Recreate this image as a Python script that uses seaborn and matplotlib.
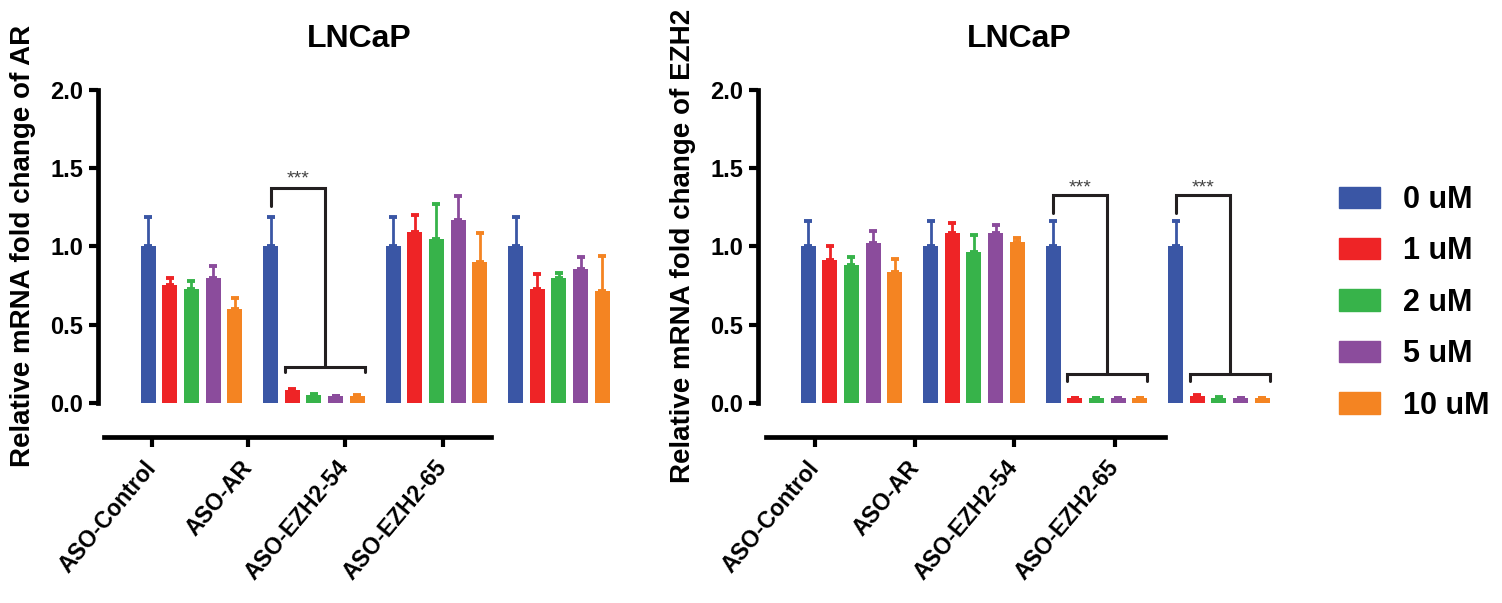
import numpy as np
import pandas as pd
import seaborn as sns
import matplotlib.pyplot as plt

sns.set_style('ticks')
plt.rcParams['font.family'] = ['Liberation Sans', 'DejaVu Sans']
plt.rcParams['font.weight'] = 'bold'
plt.rcParams['text.color'] = 'black'
plt.rcParams['axes.labelcolor'] = 'black'
plt.rcParams['axes.edgecolor'] = 'black'
plt.rcParams['xtick.color'] = 'black'
plt.rcParams['ytick.color'] = 'black'

# данные
groups = ['ASO-Control', 'ASO-AR', 'ASO-EZH2-54', 'ASO-EZH2-65']
doses = ['0 uM', '1 uM', '2 uM', '5 uM', '10 uM']
colors = ['#3A56A5', '#EE2426', '#37B34A', '#8B4C9C', '#F48422']

ar_mean = [[1.00, 0.75, 0.73, 0.80, 0.60],
           [1.00, 0.08, 0.05, 0.04, 0.04],
           [1.00, 1.09, 1.05, 1.17, 0.90],
           [1.00, 0.73, 0.80, 0.855, 0.715]]
ar_err = [[0.19, 0.045, 0.05, 0.075, 0.07],
          [0.19, 0.01, 0.008, 0.006, 0.008],
          [0.19, 0.11, 0.22, 0.15, 0.185],
          [0.19, 0.095, 0.03, 0.08, 0.225]]

ezh2_mean = [[1.00, 0.91, 0.88, 1.02, 0.835],
             [1.00, 1.085, 0.965, 1.085, 1.03],
             [1.00, 0.03, 0.028, 0.028, 0.028],
             [1.00, 0.04, 0.03, 0.028, 0.028]]
ezh2_err = [[0.165, 0.095, 0.055, 0.08, 0.085],
            [0.165, 0.065, 0.105, 0.05, 0.025],
            [0.165, 0.0, 0.0, 0.0, 0.0],
            [0.165, 0.012, 0.004, 0.0, 0.0]]


def make_df(mean, err):
    rows = []
    for i, g in enumerate(groups):
        for k, d in enumerate(doses):
            rows.append({'group': g, 'dose': d, 'value': mean[i][k], 'err': err[i][k]})
    return pd.DataFrame(rows)


fig = plt.figure(figsize=(15.02, 6.03), dpi=100)
W, H = 1502, 603
ax1 = fig.add_axes([98 / W, 1 - 402.7 / H, 522 / W, 312.7 / H])
ax2 = fig.add_axes([758 / W, 1 - 402.7 / H, 522 / W, 312.7 / H])

panels = [
    (ax1, make_df(ar_mean, ar_err), 'Relative mRNA fold change of AR',
     [-0.322, 0.461, 1.253, 2.053], (-0.714, 2.445),
     [(1, 1.376, 1.26, 0.23, 0.196, 0.055)]),
    (ax2, make_df(ezh2_mean, ezh2_err), 'Relative mRNA fold change of EZH2',
     [-0.298, 0.519, 1.327, 2.151], (-0.698, 2.559),
     [(2, 1.329, 1.212, 0.182, 0.141, 0.043),
      (3, 1.329, 1.212, 0.182, 0.141, 0.043)]),
]

for ax, df, ylab, xt, xb, brackets in panels:
    sns.barplot(data=df, x='group', y='value', hue='dose', palette=colors,
                errorbar=None, width=0.886, gap=0.31, saturation=1,
                linewidth=0, legend=False, ax=ax)
    bars = list(ax.containers)

    # планки погрешностей только вверх
    for k, cont in enumerate(bars):
        sub = df[df['dose'] == doses[k]]
        xs = [b.get_x() + b.get_width() / 2 for b in cont]
        ys = [b.get_height() for b in cont]
        e = sub['err'].values
        ax.errorbar(xs, ys, yerr=[np.zeros(len(e)), e], fmt='none',
                    ecolor=colors[k], elinewidth=2, capsize=2.6, capthick=2.8, zorder=3)

    # скобки значимости
    for gi, top, leg, low, tip, sgap in brackets:
        blue = bars[0][gi]
        red = bars[1][gi]
        orange = bars[4][gi]
        xl = blue.get_x() + blue.get_width() / 2
        x0 = red.get_x()
        x1 = orange.get_x() + orange.get_width()
        xm = (x0 + x1) / 2
        ax.plot([xl, xl, xm, xm], [leg, top, top, low], color='#231F20', lw=2.2,
                solid_joinstyle='miter', zorder=4)
        ax.plot([x0, x0, x1, x1], [tip, low, low, tip], color='#231F20', lw=2.2,
                solid_joinstyle='miter', zorder=4)
        ax.text((xl + xm) / 2, top + sgap, '***', ha='center', va='center',
                fontsize=14, fontweight='normal', color='#444444')

    # оси в стиле Prism: сначала спайны, потом подписи
    sns.despine(ax=ax)
    ax.spines['left'].set_linewidth(3.4)
    ax.spines['bottom'].set_linewidth(3.4)
    ax.spines['bottom'].set_position(('outward', 25))
    ax.spines['bottom'].set_bounds(*xb)
    ax.tick_params(axis='y', direction='out', length=6.5, width=3, pad=4)
    ax.tick_params(axis='x', direction='out', length=7, width=3, pad=12)

    ax.set_xlim(-0.763, -0.763 + 522 / 122.5)
    ax.set_ylim(0, 2.0)
    ax.set_yticks([0, 0.5, 1.0, 1.5, 2.0])
    ax.set_yticklabels(['0.0', '0.5', '1.0', '1.5', '2.0'], fontsize=17, fontweight='bold')
    ax.set_xticks(xt)
    ax.set_xticklabels(groups, rotation=50, ha='right', va='center',
                       rotation_mode='anchor', fontsize=16.5, fontweight='bold')
    ax.set_xlabel('')
    ax.set_ylabel(ylab, fontsize=20, fontweight='bold')
    ax.yaxis.set_label_coords(-0.118, 0.5)
    ax.set_title('LNCaP', fontsize=23, fontweight='bold', pad=31)

handles = [plt.Rectangle((0, 0), 1, 1, color=c) for c in colors]
fig.legend(handles, doses, loc='upper left', bbox_to_anchor=(1339 / W, 1 - 185 / H),
           frameon=False, prop={'weight': 'bold', 'size': 22},
           handlelength=1.35, handleheight=0.7, labelspacing=0.7,
           handletextpad=0.75, borderpad=0, borderaxespad=0)

fig.savefig('out.png', dpi=100)
